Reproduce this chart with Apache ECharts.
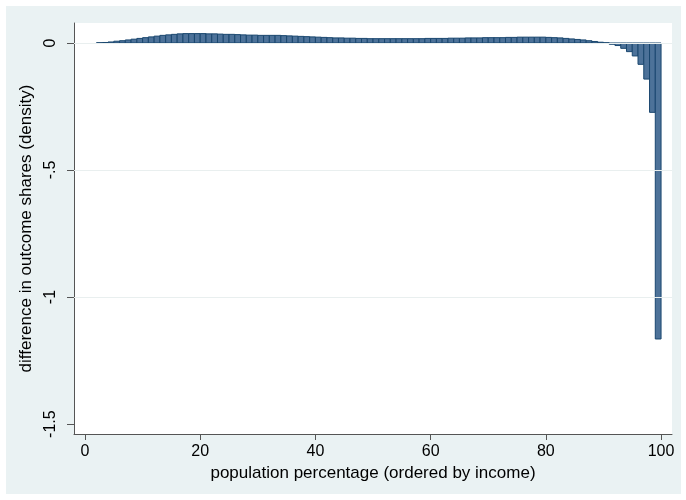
<!DOCTYPE html>
<html>
<head>
<meta charset="utf-8">
<script src="https://cdn.jsdelivr.net/npm/echarts@6/dist/echarts.min.js"></script>
<style>
html,body{margin:0;padding:0;background:#ffffff;}
#chart{width:686px;height:500px;}
</style>
</head>
<body>
<div id="chart"></div>
<script>
// Left edges of the 1-unit population bins (bin spans [left, left+1])
var binLeft = [2,3,4,5,6,7,8,9,10,11,12,13,14,15,16,17,18,19,20,21,22,23,24,25,26,27,28,29,30,31,32,33,34,35,36,37,38,39,40,41,42,43,44,45,46,47,48,49,50,51,52,53,54,55,56,57,58,59,60,61,62,63,64,65,66,67,68,69,70,71,72,73,74,75,76,77,78,79,80,81,82,83,84,85,86,87,88,89,90,91,92,93,94,95,96,97,98,99];
// Difference in outcome shares (density) for each bin
var diffValues = [0.001,0.002,0.004,0.007,0.009,0.012,0.015,0.018,0.021,0.024,0.027,0.030,0.032,0.034,0.036,0.037,0.037,0.037,0.037,0.036,0.036,0.035,0.034,0.034,0.033,0.032,0.031,0.031,0.030,0.030,0.030,0.030,0.029,0.028,0.027,0.026,0.025,0.024,0.023,0.022,0.021,0.020,0.020,0.019,0.019,0.018,0.018,0.017,0.017,0.017,0.017,0.017,0.017,0.017,0.017,0.017,0.017,0.018,0.018,0.018,0.018,0.019,0.019,0.019,0.020,0.020,0.020,0.021,0.021,0.021,0.021,0.022,0.022,0.023,0.023,0.023,0.023,0.023,0.022,0.021,0.020,0.018,0.016,0.014,0.012,0.009,0.006,0.003,0.001,-0.005,-0.010,-0.021,-0.034,-0.051,-0.084,-0.142,-0.273,-1.165];
var xTicks = [0,20,40,60,80,100];
var yTicks = [0,-0.5,-1,-1.5];
var yTickLabels = {'0':'0','-0.5':'-.5','-1':'-1','-1.5':'-1.5'};
var gridValues = [0,-0.5,-1];

var data = binLeft.map(function(l,i){ return [l, l+1, diffValues[i]]; });

var chart = echarts.init(document.getElementById('chart'), null, {renderer:'canvas'});
var FONT = 'Liberation Sans, Arial, Helvetica, sans-serif';
var option = {
  animation:false,
  backgroundColor:'#ffffff',
  graphic:[{type:'rect', z:-10, shape:{x:6,y:6,width:675,height:488}, style:{fill:'#eaf2f3'}}],
  grid:{left:74,right:14,top:23,bottom:66,backgroundColor:'#ffffff',show:true,borderWidth:0},
  xAxis:{
    type:'value', min:-1.91, max:101.9,
    name:'population percentage (ordered by income)', nameLocation:'middle', nameGap:25,
    nameTextStyle:{fontFamily:FONT,fontSize:17,color:'#000'},
    axisLine:{show:true,onZero:false,lineStyle:{color:'#555',width:1}},
    axisTick:{show:true,length:6,lineStyle:{color:'#555'},customValues:xTicks},
    axisLabel:{fontFamily:FONT,fontSize:16,color:'#000',margin:10,customValues:xTicks,showMinLabel:true,showMaxLabel:true},
    splitLine:{show:false}
  },
  yAxis:{
    type:'value', min:-1.539, max:0.0787,
    name:'difference in outcome shares (density)', nameLocation:'middle', nameGap:28, nameRotate:90,
    nameTextStyle:{fontFamily:FONT,fontSize:17,color:'#000'},
    axisLine:{show:true,onZero:false,lineStyle:{color:'#555',width:1}},
    axisTick:{show:true,length:7,lineStyle:{color:'#555'},customValues:yTicks},
    axisLabel:{fontFamily:FONT,fontSize:16,color:'#000',margin:15,rotate:90,customValues:yTicks,
      formatter:function(v){ var k=String(v); return yTickLabels[k]!==undefined?yTickLabels[k]:k; }},
    splitLine:{show:false}
  },
  series:[
    {
      type:'line', data:[], silent:true,
      markLine:{silent:true,symbol:'none',label:{show:false},
        lineStyle:{color:'#e9efef',width:1.2,type:'solid'},
        data:gridValues.map(function(v){return {yAxis:v};})}
    },
    {
      type:'custom',
      data:data,
      encode:{x:[0,1],y:2},
      renderItem:function(params, api){
        var x0=api.value(0), x1=api.value(1), v=api.value(2);
        var p0=api.coord([x0,0]), p1=api.coord([x1,v]);
        return {type:'rect',
          shape:{x:p0[0],y:Math.min(p0[1],p1[1]),width:p1[0]-p0[0],height:Math.abs(p1[1]-p0[1])},
          style:{fill:'#4d7299',stroke:'#1a476f',lineWidth:1}};
      }
    }
  ]
};
chart.setOption(option);
</script>
</body>
</html>
